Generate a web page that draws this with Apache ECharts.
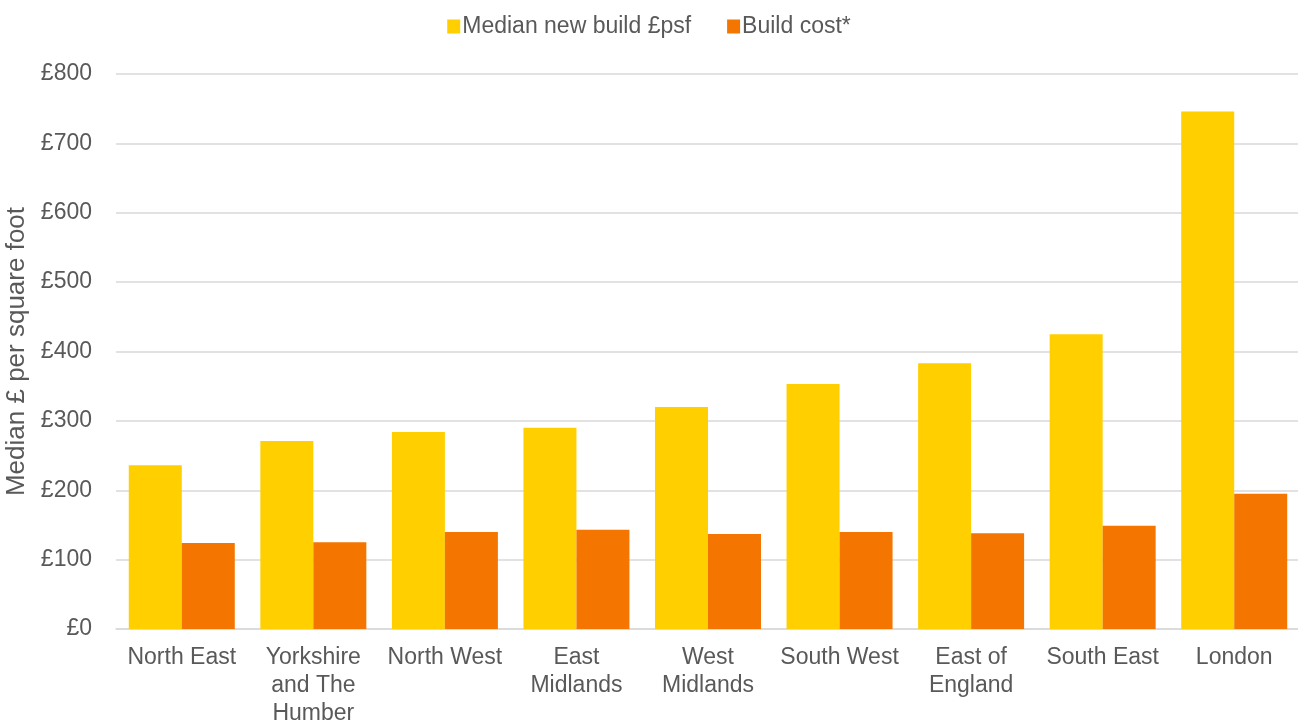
<!DOCTYPE html>
<html>
<head>
<meta charset="utf-8">
<script src="https://cdn.jsdelivr.net/npm/echarts@6/dist/echarts.min.js"></script>
<style>
  html, body { margin: 0; padding: 0; background: #ffffff; }
  #chart { width: 1298px; height: 724px; }
</style>
</head>
<body>
<div id="chart"></div>
<script>
// Regions (tick labels wrap as shown on the axis)
const regions = [
  'North East',
  'Yorkshire\nand The\nHumber',
  'North West',
  'East\nMidlands',
  'West\nMidlands',
  'South West',
  'East of\nEngland',
  'South East',
  'London'
];

// Median new build price, £ per square foot
const medianNewBuild = [236, 271, 284, 290, 320, 353, 383, 425, 746];

// Build cost, £ per square foot
const buildCost = [124, 125, 140, 143, 137, 140, 138, 149, 195];

const seriesNames = ['Median new build £psf', 'Build cost*'];
const yAxisTitle = 'Median £ per square foot';

const textColor = '#595959';
const fontFamily = '"Liberation Sans", Arial, sans-serif';

const chart = echarts.init(document.getElementById('chart'), null, { renderer: 'canvas' });

chart.setOption({
  animation: false,
  backgroundColor: '#ffffff',
  textStyle: { fontFamily: fontFamily },
  legend: {
    top: 10,
    left: 'center',
    itemWidth: 13,
    itemHeight: 14,
    itemGap: 36,
    icon: 'rect',
    textStyle: { color: textColor, fontSize: 23, fontFamily: fontFamily, padding: [0, 0, 0, -3] },
    data: seriesNames
  },
  grid: {
    left: 116,
    top: 74,
    width: 1184,
    height: 555,
    outerBoundsMode: 'none',
    containLabel: false
  },
  xAxis: {
    type: 'category',
    data: regions,
    axisLine: { show: true, lineStyle: { color: '#d9d9d9', width: 1.5 } },
    axisTick: { show: false },
    axisLabel: {
      color: textColor,
      fontSize: 23,
      fontFamily: fontFamily,
      lineHeight: 28,
      margin: 15,
      interval: 0,
      align: 'center'
    }
  },
  yAxis: {
    type: 'value',
    min: 0,
    max: 800,
    interval: 100,
    name: yAxisTitle,
    nameLocation: 'middle',
    nameGap: 84,
    nameRotate: 90,
    nameTextStyle: { color: textColor, fontSize: 26, fontFamily: fontFamily },
    axisLine: { show: false },
    axisTick: { show: false },
    axisLabel: {
      color: textColor,
      fontSize: 23,
      fontFamily: fontFamily,
      margin: 24,
      formatter: v => '£' + v
    },
    splitLine: { lineStyle: { color: '#d9d9d9', width: 1.5 } }
  },
  series: [
    {
      name: seriesNames[0],
      type: 'bar',
      data: medianNewBuild,
      barWidth: 53,
      barGap: '0%',
      itemStyle: { color: '#FFCF00' }
    },
    {
      name: seriesNames[1],
      type: 'bar',
      data: buildCost,
      barWidth: 53,
      barGap: '0%',
      itemStyle: { color: '#F47500' }
    }
  ]
});
</script>
</body>
</html>
